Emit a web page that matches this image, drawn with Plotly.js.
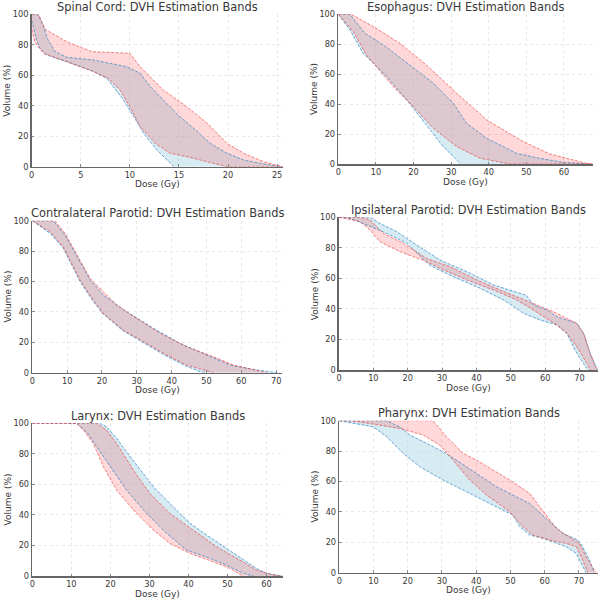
<!DOCTYPE html>
<html>
<head>
<meta charset="utf-8">
<script src="https://cdn.plot.ly/plotly-3.0.1.min.js"></script>
<style>html,body{margin:0;padding:0;background:#fff;}#chart{width:600px;height:599px;}</style>
</head>
<body>
<div id="chart"></div>
<script>
// ---- Data: [dose (Gy), volume (%)] ----
const titles = ["Spinal Cord: DVH Estimation Bands", "Esophagus: DVH Estimation Bands",
  "Contralateral Parotid: DVH Estimation Bands", "Ipsilateral Parotid: DVH Estimation Bands",
  "Larynx: DVH Estimation Bands", "Pharynx: DVH Estimation Bands"];
const xLabel = "Dose (Gy)";
const yLabel = "Volume (%)";
const xMax = [25.6, 67.8, 71.6, 75.3, 64.3, 75.5];
const xTicks = [[0,5,10,15,20,25],[0,10,20,30,40,50,60],[0,10,20,30,40,50,60,70],
  [0,10,20,30,40,50,60,70],[0,10,20,30,40,50,60],[0,10,20,30,40,50,60,70]];
const yTicks = [0,20,40,60,80,100];

const spinalBlueUpper = [[0,100],[0.68,99.5],[1.2,92],[1.6,84],[2.38,75.5],[3.57,71.8],[6.3,70],[8,67.8],[9.7,65.6],[11.05,61.3],[12.1,52.5],[13.4,43.8],[15.1,32.8],[16.5,25.2],[18.2,15.3],[19.9,8.8],[21.6,4.4],[23.6,1.8],[25,0.4],[25.4,0]];
const spinalBlueLower = [[0,96],[0.5,83],[0.85,77.7],[1.53,73.3],[3.57,69],[5.95,63.5],[7.65,58],[8.3,52.5],[9.35,43.8],[10.4,32.8],[11.4,21.9],[12.75,10.9],[13.8,4.4],[14.5,0]];
const spinalRedUpper = [[0,100],[0.7,100],[1.36,90.2],[3.57,82],[6.1,75.5],[8,75],[10,74.4],[11.05,65.6],[13.4,50.3],[15.8,39.4],[17.9,28.4],[19.9,15.3],[21.6,8.8],[23.6,3.3],[25,0.7],[25.6,0]];
const spinalRedLower = [[0,90],[0.34,81.4],[1.19,74.4],[3.57,69],[6.3,62.4],[7.8,58],[9,50.3],[10,39.4],[11.05,26.3],[12.6,15.3],[14.1,8.8],[15.8,6.6],[17.9,3.3],[19.9,0],[25.6,0]];

const esoBlueUpper = [[0,100],[3.1,100],[7.1,87.3],[12,79.5],[19.1,66],[25.3,53.9],[30.6,40.5],[34.1,27.2],[39.5,17.1],[47.4,7.1],[53.6,3.8],[59.8,1.1],[67,0]];
const esoBlueLower = [[0,100],[3.1,89.5],[6.6,73.9],[12.9,58.4],[18.2,42.8],[23.5,26.1],[27.9,11.6],[30.6,4.9],[32.5,0]];
const esoRedUpper = [[0,100],[3.5,100],[9.3,91.8],[16.4,80.6],[23.5,66],[31.5,47.2],[39.5,29.4],[49.2,14.9],[56.3,6.7],[60.7,3.8],[66,0.4],[67.8,0]];
const esoRedLower = [[0,100],[4,88.4],[7.5,72.8],[14.6,51.7],[20.8,36],[25.3,23.8],[31.5,11.6],[37.7,3.8],[45.7,0],[67.8,0]];

const cpBlueUpper = [[0,100],[6,100],[9.4,90.6],[12.7,77.4],[16.6,61],[20.4,51],[27.1,40.1],[34.8,29.2],[42.4,19.3],[50.1,11.6],[56.8,5],[63.5,2.2],[70.2,0]];
const cpBlueLower = [[0,100],[2.2,96.5],[5.1,91.7],[8.9,82],[13.7,60],[17.5,46.8],[20.4,38.5],[26.1,27.5],[32.9,18.5],[38.6,10.8],[44.3,4.2],[48.2,0.7],[50.1,0]];
const cpRedUpper = [[0,100],[6.5,100],[9.4,91.7],[12.7,78.5],[16.6,62],[20.4,53.3],[24.2,44.5],[30,35.7],[36.7,25.9],[44.3,17.1],[52,10.5],[57.8,5],[63.5,1.8],[67.3,0]];
const cpRedLower = [[0,100],[2.2,97.1],[5.1,92.8],[8.9,82.9],[13.7,61],[17.5,47.8],[20.4,39],[26.1,28.1],[32.9,19.3],[38.6,11.6],[44.3,5],[49.1,1.8],[52,0]];

const ipBlueUpper = [[0,100],[9,100],[11.9,96],[16.8,90.6],[22.6,81.9],[29.4,72],[37.2,64.4],[45,55.7],[50.8,51.5],[54.5,49],[56.6,42.6],[60.5,39.3],[63.4,34.9],[69.2,30.6],[71.2,24],[73.1,10.9],[74.6,3.3],[75.3,0]];
const ipBlueLower = [[0,100],[3.2,99.3],[8.1,95],[13.9,89.5],[19.7,83],[26.5,68.5],[33.3,61.1],[41.1,53.5],[47.9,45.9],[53.7,37.1],[58.5,32.8],[63.4,29.5],[66.3,24],[69.2,10.9],[72.1,1.1],[72.6,0]];
const ipRedUpper = [[0,100],[6.1,100],[9,98.3],[12.9,89.5],[18.7,83],[25.5,73.1],[32.3,67.7],[40.1,59],[46.9,52.4],[52.7,46.9],[56.6,43.7],[62.4,38.2],[66.3,33.8],[69.2,30.6],[71.2,24],[73.1,10.9],[74.6,2.2],[75.1,0]];
const ipRedLower = [[0,100],[6.1,97.2],[9,91.7],[11.9,84],[17.8,77.5],[25.5,71],[29.4,66.6],[37.2,59],[45,52.4],[51.7,45.9],[56.6,39.3],[63.4,29.5],[66.3,24],[69.2,15.3],[72.1,4.4],[73.1,0]];

const larBlueUpper = [[0,100],[17.3,100],[19,97.8],[21.6,90.2],[24.1,81.4],[27.6,69.4],[31,58.5],[35.2,47.6],[40.4,34.5],[44.6,26.9],[49.7,18.1],[54,10.5],[57.4,5],[60,1.7],[64.2,0]];
const larBlueLower = [[0,100],[11.3,100],[13.9,94.5],[16.5,84.7],[19.9,71.6],[24.1,56.3],[29.3,41],[34.4,27.9],[39.5,17],[45.5,11.6],[50.6,6.1],[54,1.7],[56.6,0]];
const larRedUpper = [[0,100],[16.5,100],[19,95.6],[21.6,86.9],[25.9,69.4],[30.1,54.1],[35.2,41],[41.2,30.1],[47.2,19.2],[53.1,10.5],[57.4,3.9],[61.7,0.7],[63.4,0]];
const larRedLower = [[0,100],[11.3,100],[13.1,95.6],[15.6,86.9],[18.2,71.6],[21.6,56.3],[25.9,43.2],[31,30.1],[35.2,21.4],[40.4,14.8],[46.3,9.4],[50.6,5],[54,0]];

const phBlueUpper = [[0,100],[13.8,100],[17.7,96],[20.6,90.6],[25.5,85.1],[30.3,79.6],[34.2,74.1],[40,65.4],[45.9,56.6],[50.7,51.1],[55.6,45.6],[60.4,35.7],[65.3,25.9],[69.7,21.5],[71.1,17.1],[73.1,8.3],[74.5,0]];
const phBlueLower = [[0,100],[4.1,98.2],[9.9,96],[13.8,89.5],[18.7,78.5],[23.5,69.7],[30.3,61],[37.1,53.3],[43,46.7],[50.7,37.9],[52.7,30.3],[55.6,24.8],[59.5,22.6],[66.3,17.1],[69.2,12.7],[71.1,3.9],[72.1,0]];
const phRedUpper = [[0,100],[27.4,100],[31.3,89.5],[36.2,78.5],[40,74.1],[45.9,66.4],[49.8,61],[55.6,52.2],[58.5,43.4],[63.4,29.2],[66.3,24.8],[70.2,19.3],[72.1,10.5],[74.1,2.9],[75,0]];
const phRedLower = [[0,100],[3.1,100],[9.9,97.8],[17.7,94.9],[24.5,90.6],[29.3,84],[33.2,74.1],[38.1,61],[43,51.1],[49.8,40.1],[53.6,30.3],[56.6,24.8],[61.4,21.5],[66.3,19.3],[69.2,17.1],[71.1,8.3],[72.6,0]];

const organs = [
  {blueU: spinalBlueUpper, blueL: spinalBlueLower, redU: spinalRedUpper, redL: spinalRedLower},
  {blueU: esoBlueUpper, blueL: esoBlueLower, redU: esoRedUpper, redL: esoRedLower},
  {blueU: cpBlueUpper, blueL: cpBlueLower, redU: cpRedUpper, redL: cpRedLower},
  {blueU: ipBlueUpper, blueL: ipBlueLower, redU: ipRedUpper, redL: ipRedLower},
  {blueU: larBlueUpper, blueL: larBlueLower, redU: larRedUpper, redL: larRedLower},
  {blueU: phBlueUpper, blueL: phBlueLower, redU: phRedUpper, redL: phRedLower}
];

// ---- Layout geometry (pixels) ----
const W = 600, H = 599;
const boxes = [
  [31.7, 283, 14.3, 166.7], [338.3, 593.3, 14.3, 164],
  [32.3, 281.7, 220.7, 372.7], [339, 597.7, 217.3, 370],
  [32.3, 283.3, 423.3, 576], [339.3, 597.7, 420.7, 572.7]
];

const blueFill = 'rgba(173,216,230,0.5)';
const redFill = 'rgba(255,0,0,0.15)';
const blueLine = 'rgba(50,135,200,0.72)';
const redLine = 'rgba(240,70,70,0.68)';
const FONT = 'DejaVu Sans, sans-serif';
const TXT = '#383838';

const traces = [];
const layout = {
  width: W, height: H, margin: {l:0, r:0, t:0, b:0},
  paper_bgcolor: '#fff', plot_bgcolor: '#fff', showlegend: false,
  font: {family: FONT, size: 8, color: TXT},
  annotations: []
};

function xs(a){ return a.map(p => p[0]); }
function ys(a){ return a.map(p => p[1]); }

organs.forEach((o, i) => {
  const n = i + 1;
  const sfx = (n === 1 ? '' : String(n));
  const xa = 'x' + sfx, ya = 'y' + sfx;
  const band = (U, L, fill) => ({
    x: xs(U).concat(xs(L).slice().reverse()),
    y: ys(U).concat(ys(L).slice().reverse()),
    xaxis: xa, yaxis: ya, mode: 'lines', fill: 'toself', fillcolor: fill,
    line: {width: 0}, hoverinfo: 'skip'
  });
  const edge = (A, col) => ({
    x: xs(A), y: ys(A), xaxis: xa, yaxis: ya, mode: 'lines',
    line: {color: col, width: 1, dash: '3px,1.5px'}, hoverinfo: 'skip'
  });
  traces.push(band(o.blueU, o.blueL, blueFill));
  traces.push(band(o.redU, o.redL, redFill));
  traces.push(edge(o.blueU, blueLine), edge(o.blueL, blueLine));
  traces.push(edge(o.redU, redLine), edge(o.redL, redLine));

  const b = boxes[i];
  const xd = [b[0]/W, b[1]/W], yd = [1 - b[3]/H, 1 - b[2]/H];
  const axCommon = {
    showline: true, linecolor: '#666', linewidth: 1.6, mirror: false,
    showgrid: true, gridcolor: '#e9e9e9', griddash: 'dot', gridwidth: 1,
    zeroline: false, ticks: 'inside', ticklen: 2.5, tickcolor: '#888',
    tickfont: {family: FONT, size: 8.2, color: TXT}, fixedrange: true
  };
  layout['xaxis' + sfx] = Object.assign({}, axCommon, {
    domain: xd, anchor: ya, range: [0, xMax[i]],
    tickmode: 'array', tickvals: xTicks[i], ticktext: xTicks[i].map(String)
  });
  layout['yaxis' + sfx] = Object.assign({}, axCommon, {
    domain: yd, anchor: xa, range: [0, 100],
    tickmode: 'array', tickvals: yTicks, ticktext: yTicks.map(String)
  });
  // subplot title
  layout.annotations.push({
    text: titles[i], xref: 'paper', yref: 'paper',
    x: (xd[0] + xd[1]) / 2, y: yd[1], yshift: 7.4, xanchor: 'center', yanchor: 'middle',
    borderpad: 0, showarrow: false, font: {family: FONT, size: 11.4, color: TXT}
  });
  // x axis title
  layout.annotations.push({
    text: xLabel, xref: 'paper', yref: 'paper',
    x: (xd[0] + xd[1]) / 2, y: yd[0], yshift: -17.5, xanchor: 'center', yanchor: 'middle',
    showarrow: false, font: {family: FONT, size: 9, color: TXT}
  });
  // y axis title
  layout.annotations.push({
    text: yLabel, xref: 'paper', yref: 'paper', textangle: -90,
    x: xd[0], xshift: -24.5, y: (yd[0] + yd[1]) / 2, xanchor: 'center', yanchor: 'middle',
    showarrow: false, font: {family: FONT, size: 9, color: TXT}
  });
});

Plotly.newPlot('chart', traces, layout, {staticPlot: true, displayModeBar: false});
</script>
</body>
</html>
